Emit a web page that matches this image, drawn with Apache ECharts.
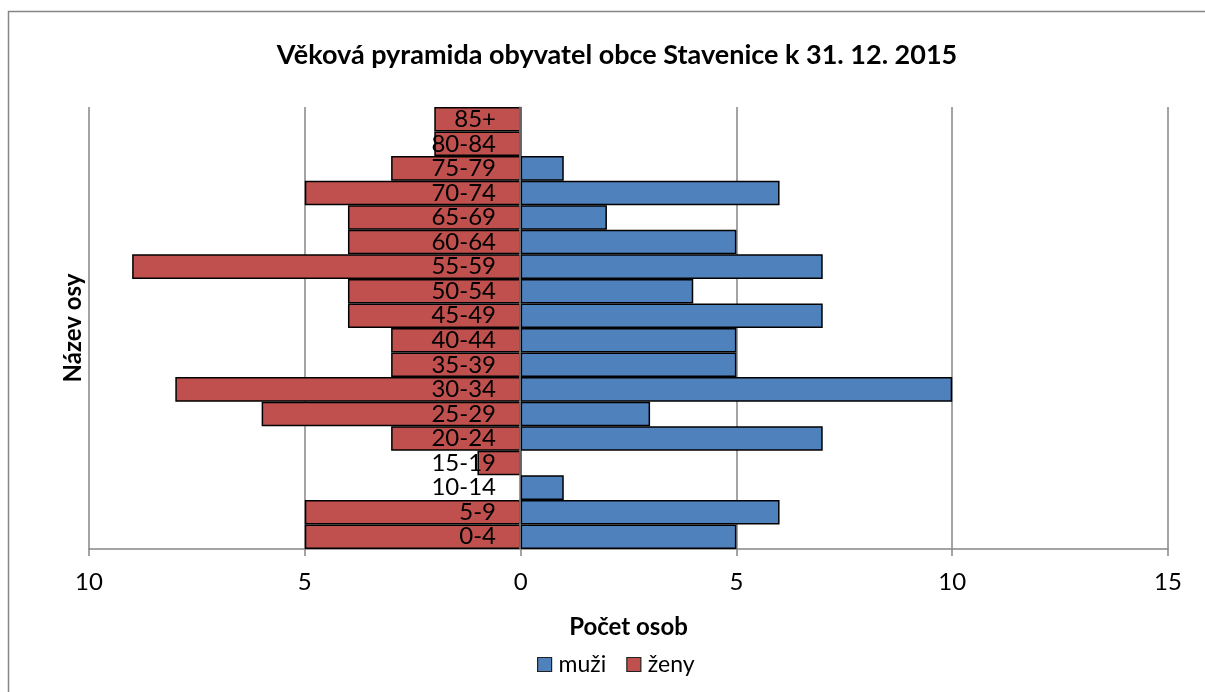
<!DOCTYPE html>
<html>
<head>
<meta charset="utf-8">
<script src="https://cdn.jsdelivr.net/npm/echarts@6/dist/echarts.min.js"></script>
<style>
  html, body { margin: 0; padding: 0; background: #fff; }
  #chart { width: 1205px; height: 692px; }
</style>
</head>
<body>
<div id="chart"></div>
<script>
// věkové skupiny (odspodu nahoru)
const categories = ['0-4', '5-9', '10-14', '15-19', '20-24', '25-29', '30-34', '35-39', '40-44',
  '45-49', '50-54', '55-59', '60-64', '65-69', '70-74', '75-79', '80-84', '85+']
const muzi = [5, 6, 1, 0, 7, 3, 10, 5, 5, 7, 4, 7, 5, 2, 6, 1, 0, 0]
const zeny = [5, 5, 0, 1, 3, 6, 8, 3, 3, 4, 4, 9, 4, 4, 5, 3, 2, 2]
const xTicks = [-10, -5, 0, 5, 10, 15]

const font = 'Lato, "Open Sans", sans-serif'
let myChart = echarts.init(document.getElementById('chart'))

let option = {
  textStyle: { fontFamily: font },
  animation: false,
  graphic: [{
    type: 'rect',
    shape: { x: 8.5, y: 11.5, width: 1300, height: 800 },
    style: { fill: 'none', stroke: '#868686', lineWidth: 1.5 },
    silent: true
  }],
  title: {
    text: 'Věková pyramida obyvatel obce Stavenice k 31. 12. 2015',
    left: 612,
    top: 37,
    textAlign: 'center',
    textStyle: { fontFamily: font, fontSize: 27, fontWeight: 'bold', color: '#000' }
  },
  legend: {
    data: ['muži', 'ženy'],
    left: 532,
    top: 648,
    itemWidth: 14,
    itemHeight: 14,
    itemGap: 20,
    icon: 'rect',
    itemStyle: { borderColor: '#222', borderWidth: 1.2 },
    textStyle: { fontFamily: font, fontSize: 23, color: '#000', padding: [0, 0, 0, 2] }
  },
  grid: { left: 89, right: 37, top: 107, bottom: 143, containLabel: false, outerBoundsMode: 'none' },
  xAxis: {
    type: 'value',
    min: -10,
    max: 15,
    interval: 5,
    name: 'Počet osob',
    nameLocation: 'middle',
    nameGap: 66,
    nameTextStyle: { fontFamily: font, fontSize: 24, fontWeight: 'bold', color: '#000' },
    axisLine: { show: true, onZero: false, lineStyle: { color: '#868686', width: 1.5 } },
    axisTick: { show: true, length: 7, lineStyle: { color: '#868686', width: 1.5 } },
    axisLabel: {
      fontFamily: font, fontSize: 24, color: '#000', margin: 21,
      formatter: v => xTicks.includes(v) ? String(Math.abs(v)) : ''
    },
    splitLine: { show: true, lineStyle: { color: '#868686', width: 1.5 } }
  },
  yAxis: {
    type: 'category',
    data: categories,
    position: 'left',
    offset: -431, // osa kategorií leží na nule
    z: 5,
    name: 'Název osy',
    nameLocation: 'middle',
    nameRotate: 90,
    nameGap: 435,
    nameMoveOverlap: false,
    nameTextStyle: { fontFamily: font, fontSize: 24, fontWeight: 'bold', color: '#000' },
    axisLine: { show: true, onZero: false, lineStyle: { color: '#868686', width: 1.5 } },
    axisTick: { show: false },
    axisLabel: { fontFamily: font, fontSize: 24, color: '#000', margin: 24, interval: 0 },
    splitLine: { show: false }
  },
  series: [
    {
      name: 'muži',
      type: 'bar',
      data: muzi,
      barCategoryGap: 0,
      barGap: '-100%',
      itemStyle: { color: '#4F81BD', borderColor: '#000', borderWidth: 1.5 }
    },
    {
      name: 'ženy',
      type: 'bar',
      data: zeny.map(v => -v),
      barCategoryGap: 0,
      barGap: '-100%',
      itemStyle: { color: '#C0504D', borderColor: '#000', borderWidth: 1.5 }
    }
  ]
}
myChart.setOption(option)
window.onresize = myChart.resize
</script>
</body>
</html>
